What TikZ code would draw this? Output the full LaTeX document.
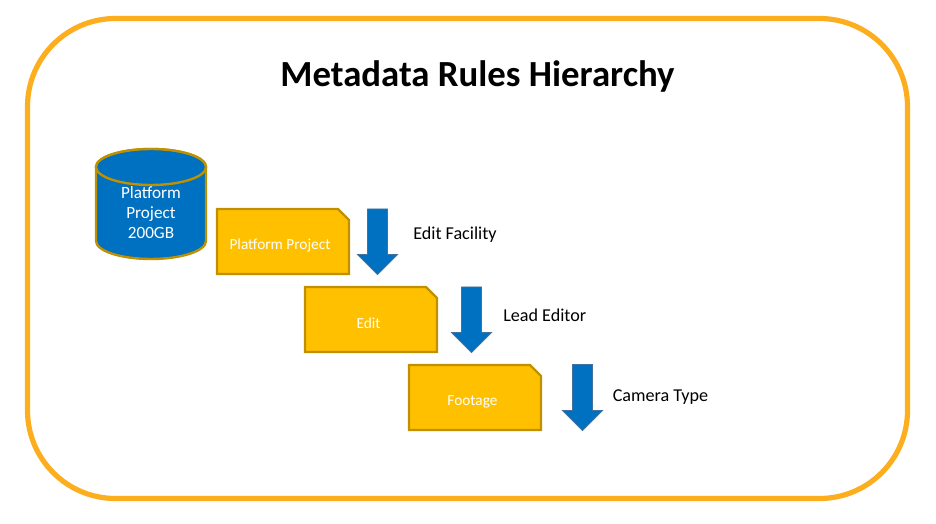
\documentclass[tikz,border=0pt]{standalone}
\usepackage{fontspec}
\setmainfont{Carlito}
\definecolor{frameor}{HTML}{FDAE1F}
\definecolor{cardfill}{HTML}{FFC000}
\definecolor{cardline}{HTML}{BF9000}
\definecolor{bluefill}{HTML}{0070C0}
\definecolor{arrowline}{HTML}{41719C}
\tikzset{
  card/.style={fill=cardfill,draw=cardline,line width=1.8pt,line join=miter},
  cardtext/.style={text=white,font=\fontsize{11.5}{14}\selectfont,inner sep=0pt},
  sidelabel/.style={text=black,font=\fontsize{13.6}{16}\selectfont,anchor=west,inner sep=0pt},
  downarrow/.style={fill=bluefill,draw=arrowline,line width=0.6pt},
  cyl/.style={fill=bluefill,draw=cardline,line width=1.8pt}
}
\newcommand{\cardshape}[2]{\draw[card] (#1,#2) -- ++(121,0) -- ++(11,11) -- ++(0,54) -- ++(-132,0) -- cycle;}
\newcommand{\arrowshape}[3]{\draw[downarrow] (#1+10,#2) -- (#1+30,#2) -- (#1+30,#3-20) -- (#1+40,#3-20) -- (#1+20,#3) -- (#1,#3-20) -- (#1+10,#3-20) -- cycle;}
\begin{document}
\begin{tikzpicture}[x=0.75pt,y=-0.75pt]
\useasboundingbox (0,0) rectangle (936,524);
\draw[frameor,line width=3.9pt,rounded corners=66pt] (27.5,18.5) rectangle (907.5,498.5);
\node[font=\bfseries\fontsize{27.6}{32}\selectfont,inner sep=0pt] (title) at (477.5,76.5) {Metadata Rules Hierarchy};
% cylinder
\draw[cyl] (96,167) -- (96,241) arc[start angle=180,end angle=0,x radius=55,y radius=18] -- (206,167) arc[start angle=0,end angle=-180,x radius=55,y radius=18] -- cycle;
\draw[cyl] (151,167) ellipse[x radius=55,y radius=18];
\node[text=white,font=\fontsize{12.9}{15}\selectfont,align=center,inner sep=0pt] (cyltext) at (151,213) {Platform\\Project\\200GB};
% cards
\cardshape{217}{209}
\cardshape{305}{287}
\cardshape{409}{365}
\node[cardtext] (c1) at (280,245) {Platform Project};
\node[cardtext] (c2) at (368.5,323.5) {Edit};
\node[cardtext] (c3) at (472.5,401.5) {Footage};
% arrows
\arrowshape{357.5}{209}{274.5}
\arrowshape{451.5}{287}{352.5}
\arrowshape{562.5}{364.5}{430.5}
\node[sidelabel] (l1) at (413,235) {Edit Facility};
\node[sidelabel] (l2) at (503,315.5) {Lead Editor};
\node[sidelabel] (l3) at (612.5,397) {Camera Type};
\end{tikzpicture}
\end{document}
